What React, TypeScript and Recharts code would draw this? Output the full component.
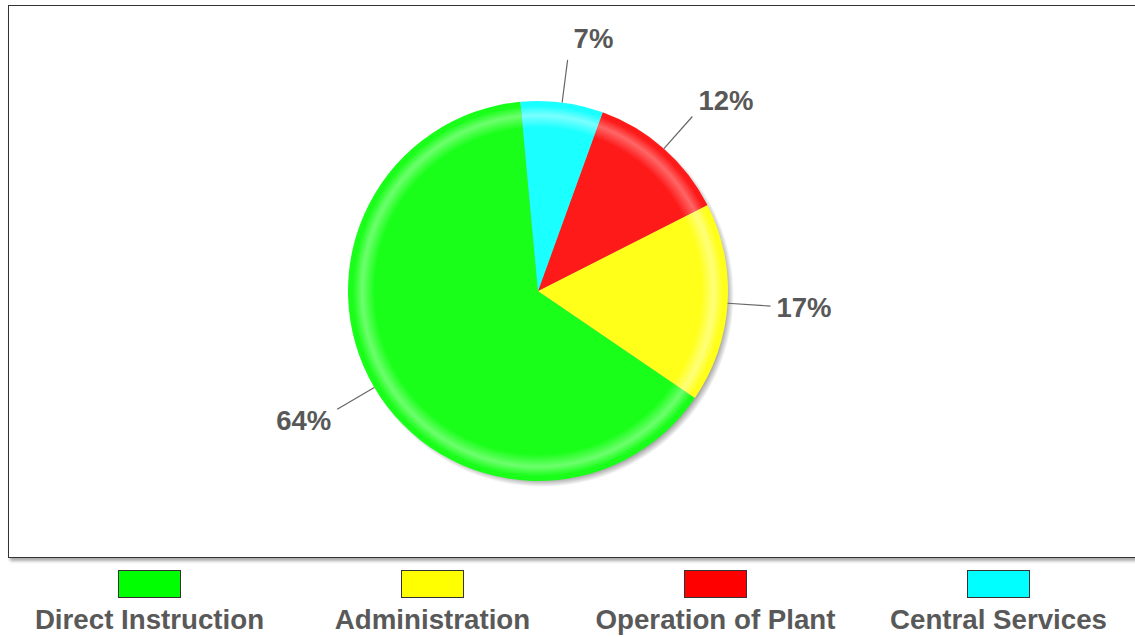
import React from 'react';
import { PieChart, Pie, Cell, Legend } from 'recharts';

const categories = ['Direct Instruction', 'Administration', 'Operation of Plant', 'Central Services'];
const shares = [64, 17, 12, 7];
const sliceColors = ['#1aff1a', '#ffff1a', '#ff1a1a', '#1affff'];
const highlightColors = ['#6dff6d', '#ffff7a', '#ff6666', '#7affff'];
const legendColors = ['#00ff00', '#ffff00', '#ff0000', '#00ffff'];

const data = categories.map((name, i) => ({ name, value: shares[i] }));
const shadowData = [{ name: 'shadow', value: 1 }];

const CX = 538;
const CY = 291;
const R = 190;
const FONT = '"Liberation Sans", Arial, sans-serif';

const renderLabel = (props: any) => {
  const { cx, cy, midAngle, outerRadius, value } = props;
  const rad = Math.PI / 180;
  const c = Math.cos(-midAngle * rad);
  const s = Math.sin(-midAngle * rad);
  const sx = cx + outerRadius * c;
  const sy = cy + outerRadius * s;
  const ex = cx + (outerRadius + 43) * c;
  const ey = cy + (outerRadius + 43) * s;
  const right = c >= 0;
  const tx = ex + (right ? 6 : -6);
  const ty = ey + 22 * s;
  return (
    <g>
      <line x1={sx} y1={sy} x2={ex} y2={ey} stroke="#666" strokeWidth={1.2} />
      <text
        x={tx}
        y={ty}
        textAnchor={right ? 'start' : 'end'}
        dominantBaseline="central"
        fill="#585858"
        fontFamily={FONT}
        fontWeight="bold"
        fontSize={27.5}
      >
        {value}%
      </text>
    </g>
  );
};

const renderLegend = () => (
  <div style={{ display: 'flex', width: 1132 }}>
    {categories.map((name, i) => (
      <div
        key={name}
        style={{ width: 283, display: 'flex', flexDirection: 'column', alignItems: 'center' }}
      >
        <div
          style={{
            width: 63,
            height: 28,
            boxSizing: 'border-box',
            border: '1px solid #333',
            background: legendColors[i],
          }}
        />
        <div
          style={{
            marginTop: 6,
            fontFamily: FONT,
            fontWeight: 'bold',
            fontSize: 27.7,
            lineHeight: '32px',
            color: '#595959',
            whiteSpace: 'nowrap',
          }}
        >
          {name}
        </div>
      </div>
    ))}
  </div>
);

export default function App() {
  return (
    <div
      style={{
        position: 'absolute',
        left: 0,
        top: 0,
        width: 1135,
        height: 637,
        overflow: 'hidden',
        background: '#fff',
      }}
    >
      <div
        style={{
          position: 'absolute',
          left: 8,
          top: 5,
          width: 1150,
          height: 553,
          border: '1px solid #333',
          boxSizing: 'border-box',
          boxShadow: '2px 3px 3px #aaa',
        }}
      />
      <div style={{ position: 'absolute', left: 0, top: 0 }}>
        <PieChart width={1135} height={637} margin={{ top: 0, right: 0, bottom: 0, left: 0 }}>
          <defs>
            <radialGradient id="pieShadow" gradientUnits="userSpaceOnUse" cx={CX + 4} cy={CY + 4} r={R + 2}>
              <stop offset="0" stopColor="#999" stopOpacity={1} />
              <stop offset="0.96" stopColor="#999" stopOpacity={0.9} />
              <stop offset="1" stopColor="#999" stopOpacity={0} />
            </radialGradient>
            {sliceColors.map((col, i) => (
              <radialGradient key={i} id={`slice${i}`} gradientUnits="userSpaceOnUse" cx={CX} cy={CY} r={R}>
                <stop offset="0" stopColor={col} />
                <stop offset="0.86" stopColor={col} />
                <stop offset="0.925" stopColor={highlightColors[i]} />
                <stop offset="0.975" stopColor={col} />
                <stop offset="1" stopColor={col} />
              </radialGradient>
            ))}
          </defs>
          <Pie
            data={shadowData}
            dataKey="value"
            cx={CX + 4}
            cy={CY + 4}
            outerRadius={R + 2}
            fill="url(#pieShadow)"
            stroke="none"
            legendType="none"
            isAnimationActive={false}
          />
          <Pie
            data={data}
            dataKey="value"
            nameKey="name"
            cx={CX}
            cy={CY}
            outerRadius={R}
            startAngle={95.3}
            endAngle={455.3}
            stroke="none"
            label={renderLabel}
            labelLine={false}
            isAnimationActive={false}
          >
            {data.map((d, i) => (
              <Cell key={d.name} fill={`url(#slice${i})`} />
            ))}
          </Pie>
          <Legend
            content={renderLegend}
            wrapperStyle={{ position: 'absolute', left: 8, top: 570, width: 1132, height: 67 }}
          />
        </PieChart>
      </div>
    </div>
  );
}
